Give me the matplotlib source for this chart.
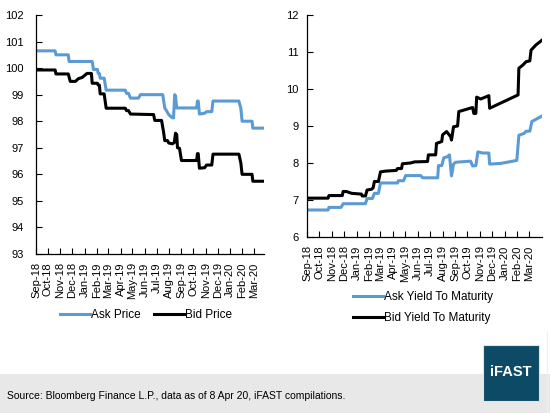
import numpy as np
import pandas as pd
import matplotlib
matplotlib.use('Agg')
import matplotlib.pyplot as plt
import matplotlib.dates as mdates
from matplotlib.patches import Rectangle
from matplotlib.lines import Line2D

plt.rcParams['font.family'] = ['Liberation Sans', 'DejaVu Sans']

start = pd.Timestamp('2018-09-01')

# price chart: days since 1 Sep 2018 and values
ask_price_days = [0, 48, 50, 81, 83, 141, 144, 154, 156, 159, 161, 171, 176, 224, 227, 232, 237, 257,
                  262, 318, 323, 328, 333, 340, 345, 348, 350, 353, 403, 405, 407, 410, 423, 428, 441,
                  444, 509, 514, 517, 542, 544, 572]
ask_price = [100.65, 100.65, 100.5, 100.5, 100.25, 100.25, 99.95, 99.95, 99.8, 99.8, 99.62, 99.62,
             99.17, 99.17, 99.05, 99.05, 98.87, 98.87, 99.0, 99.0, 98.5, 98.38, 98.25, 98.15, 98.12,
             99.0, 98.95, 98.5, 98.5, 98.76, 98.76, 98.27, 98.3, 98.36, 98.36, 98.76, 98.76, 98.48,
             98.0, 98.0, 97.74, 97.74]

bid_price_days = [0, 48, 50, 81, 86, 99, 106, 116, 128, 139, 141, 154, 156, 159, 161, 171, 176, 224,
                  227, 232, 237, 295, 298, 315, 320, 323, 330, 333, 342, 347, 350, 353, 355, 360, 365,
                  403, 405, 407, 410, 423, 428, 441, 444, 509, 514, 517, 542, 544, 572]
bid_price = [99.93, 99.93, 99.78, 99.78, 99.5, 99.5, 99.6, 99.65, 99.8, 99.8, 99.43, 99.43, 99.36,
             99.36, 99.03, 99.03, 98.49, 98.49, 98.4, 98.4, 98.27, 98.25, 98.03, 98.03, 97.6, 97.27,
             97.27, 97.18, 97.15, 97.2, 97.55, 97.5, 97.0, 96.98, 96.52, 96.52, 96.78, 96.78, 96.23,
             96.25, 96.35, 96.35, 96.76, 96.76, 96.42, 96.0, 96.0, 95.74, 95.74]

# yield chart
ask_ytm_days = [0, 52, 54, 84, 89, 144, 148, 161, 166, 176, 181, 223, 225, 238, 243, 280, 285, 322,
                324, 332, 337, 346, 351, 356, 361, 366, 403, 408, 416, 421, 433, 448, 450, 478, 517,
                522, 535, 540, 549, 554, 579]
ask_ytm = [6.73, 6.73, 6.8, 6.8, 6.9, 6.9, 7.04, 7.04, 7.18, 7.18, 7.46, 7.46, 7.52, 7.52, 7.66,
           7.66, 7.6, 7.6, 7.93, 7.93, 8.14, 8.17, 8.22, 7.65, 7.97, 8.02, 8.05, 7.92, 7.93, 8.3,
           8.27, 8.27, 7.97, 7.99, 8.07, 8.75, 8.8, 8.86, 8.86, 9.12, 9.27]

bid_ytm_days = [0, 52, 54, 87, 89, 97, 110, 134, 136, 144, 148, 159, 163, 166, 176, 181, 193, 220,
                223, 233, 235, 255, 265, 297, 299, 317, 319, 332, 334, 344, 354, 356, 361, 371, 374,
                408, 411, 416, 418, 428, 446, 448, 450, 520, 522, 532, 540, 549, 552, 564, 579]
bid_ytm = [7.05, 7.05, 7.12, 7.12, 7.23, 7.23, 7.18, 7.16, 7.11, 7.11, 7.27, 7.29, 7.33, 7.5, 7.5,
           7.76, 7.78, 7.8, 7.85, 7.85, 7.98, 8.0, 8.03, 8.04, 8.22, 8.22, 8.53, 8.58, 8.76, 8.85,
           8.71, 8.62, 8.98, 9.0, 9.39, 9.5, 9.34, 9.34, 9.78, 9.73, 9.81, 9.82, 9.48, 9.84, 10.56,
           10.65, 10.74, 10.76, 11.05, 11.19, 11.32]

blue = '#5b9bd5'
month_ticks = pd.date_range('2018-09-01', '2020-03-01', freq='MS')


def to_dates(days):
    return start + pd.to_timedelta(days, unit='D')


def style(ax, ylim, yticks, pad):
    for s in ['top', 'right']:
        ax.spines[s].set_visible(False)
    for s in ['left', 'bottom']:
        ax.spines[s].set_linewidth(0.9)
    ax.set_ylim(*ylim)
    ax.set_yticks(yticks)
    ax.set_xticks(month_ticks)
    ax.xaxis.set_major_formatter(mdates.DateFormatter('%b-%y'))
    ax.tick_params(axis='x', direction='in', length=4, labelsize=8, rotation=90, pad=6)
    ax.tick_params(axis='y', direction='in', length=4, labelsize=8, pad=pad)


fig = plt.figure(figsize=(5.5, 4.13), dpi=100)

ax1 = fig.add_axes([36 / 550, 1 - 254 / 413, 228 / 550, 239 / 413])
ax1.plot(to_dates(ask_price_days), ask_price, color=blue, lw=2.2, label='Ask Price')
ax1.plot(to_dates(bid_price_days), bid_price, color='black', lw=2.2, label='Bid Price')
style(ax1, (93, 102), range(93, 103), 9)
ax1.set_xlim(start, to_dates([572])[0])

ax2 = fig.add_axes([307 / 550, 1 - 237 / 413, 235 / 550, 222 / 413])
ax2.plot(to_dates(ask_ytm_days), ask_ytm, color=blue, lw=2.2, label='Ask Yield To Maturity')
ax2.plot(to_dates(bid_ytm_days), bid_ytm, color='black', lw=2.2, label='Bid Yield To Maturity')
style(ax2, (6, 12), range(6, 13), 6)
ax2.set_xlim(start, to_dates([579])[0])

fig.legend(*ax1.get_legend_handles_labels(), loc='center left', bbox_to_anchor=(60 / 550, 1 - 315 / 413),
           ncol=2, frameon=False, fontsize=8.5, handlelength=2.5, handletextpad=0.1,
           columnspacing=1.2, borderpad=0, borderaxespad=0)
fig.legend(*ax2.get_legend_handles_labels(), loc='center left', bbox_to_anchor=(353 / 550, 1 - 307.5 / 413),
           ncol=1, frameon=False, fontsize=8.5, handlelength=2.5, handletextpad=0.1,
           labelspacing=0.75, borderpad=0, borderaxespad=0)

# footer
fig.patches.append(Rectangle((0, 0), 1, 39 / 413, transform=fig.transFigure,
                             facecolor='#e8e8e8', edgecolor='none', zorder=0))
fig.text(7 / 550, 1 - 396 / 413, 'Source: Bloomberg Finance L.P., data as of 8 Apr 20, iFAST compilations.',
         fontsize=7.5, va='center', ha='left')
fig.patches.append(Rectangle((483 / 550, 1 - 401 / 413), 56 / 550, 56 / 413, transform=fig.transFigure,
                             facecolor='#0d4a66', edgecolor='#dde3e6', lw=0.8, zorder=2))
fig.text(511 / 550, 1 - 372 / 413, 'iFAST', color='white', fontsize=10.5, fontweight='bold',
         ha='center', va='center', zorder=3)
fig.lines.append(Line2D([547 / 550, 547 / 550], [0, 1 - 332 / 413], transform=fig.transFigure,
                        color='#efefef', lw=0.8))

fig.savefig('out.png', dpi=100)
